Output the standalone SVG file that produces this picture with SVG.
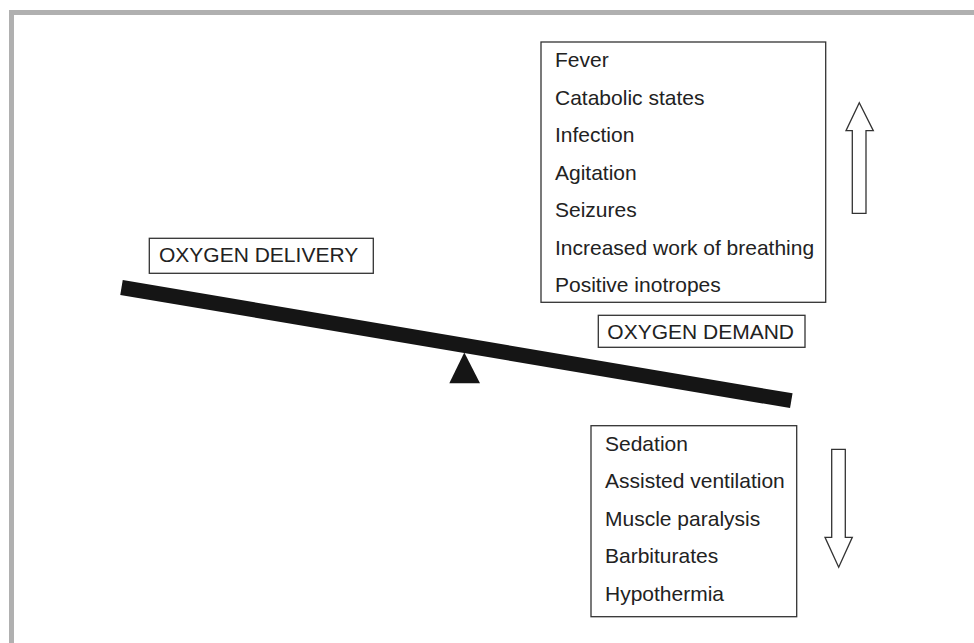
<svg xmlns="http://www.w3.org/2000/svg" width="974" height="643" viewBox="0 0 974 643">
<style>
  .box { fill: #fff; stroke: #333; stroke-width: 1.3; }
  .t { font-family: "Liberation Sans", Arial, sans-serif; font-size: 21px; fill: #222; }
  .arr { fill: #fff; stroke: #333; stroke-width: 1.3; stroke-linejoin: miter; }
</style>
<rect x="0" y="0" width="974" height="643" fill="#fff"/>
<g id="frame">
  <rect x="9" y="10" width="965" height="5" fill="#b0b0b0"/>
  <rect x="9" y="10" width="5" height="633" fill="#b0b0b0"/>
</g>
<g id="balance">
  <line x1="121.5" y1="287.5" x2="791.3" y2="400.7" stroke="#151515" stroke-width="15"/>
  <polygon points="464.3,352.5 449.3,383.3 480,383.3" fill="#151515"/>
</g>
<g id="delivery">
  <rect class="box" x="149.3" y="238.3" width="224" height="35"/>
  <text class="t" x="159" y="261.7">OXYGEN DELIVERY</text>
</g>
<g id="demand">
  <rect class="box" x="598.3" y="315.3" width="206.7" height="32"/>
  <text class="t" x="607.3" y="338.7">OXYGEN DEMAND</text>
</g>
<g id="increase">
  <rect class="box" x="541" y="42" width="284.7" height="260.3"/>
  <text class="t" x="555" y="67">Fever</text>
  <text class="t" x="555" y="104.5">Catabolic states</text>
  <text class="t" x="555" y="142">Infection</text>
  <text class="t" x="555" y="179.5">Agitation</text>
  <text class="t" x="555" y="217">Seizures</text>
  <text class="t" x="555" y="254.5">Increased work of breathing</text>
  <text class="t" x="555" y="292">Positive inotropes</text>
</g>
<g id="decrease">
  <rect class="box" x="591" y="425.7" width="205.7" height="191"/>
  <text class="t" x="605" y="450.7">Sedation</text>
  <text class="t" x="605" y="488.3">Assisted ventilation</text>
  <text class="t" x="605" y="525.7">Muscle paralysis</text>
  <text class="t" x="605" y="563.3">Barbiturates</text>
  <text class="t" x="605" y="601">Hypothermia</text>
</g>
<g id="connectors">
  <polygon id="up-arrow" class="arr" points="859.3,102.7 873.3,130.7 866,130.7 866,213.3 852.3,213.3 852.3,130.7 846,130.7"/>
  <polygon id="down-arrow" class="arr" points="831.7,449.3 845.3,449.3 845.3,537.3 852.3,537.3 838.7,567.3 825,537.3 831.7,537.3"/>
</g>
</svg>
